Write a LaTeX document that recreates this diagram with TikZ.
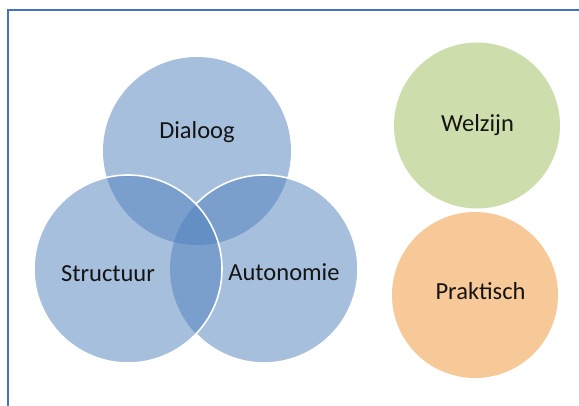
\documentclass[tikz,border=0pt]{standalone}
\usepackage{fontspec}
\setmainfont{Carlito}
\definecolor{vennblue}{HTML}{4F81BD}
\definecolor{framblue}{HTML}{4472C4}
\definecolor{welgreen}{HTML}{CEDDAC}
\definecolor{praorange}{HTML}{F8C998}
\definecolor{txt}{HTML}{141414}
\tikzset{
  venn/.style={circle, minimum size=188pt, inner sep=0pt, fill=vennblue, fill opacity=0.5, draw=none},
  rim/.style={draw=white, line width=1.6pt},
  solo/.style={circle, minimum size=166pt, inner sep=0pt, draw=none},
  lbl/.style={anchor=base, font=\fontsize{24.5}{28}\selectfont, text=txt, inner sep=0pt},
}
\begin{document}
\begin{tikzpicture}[x=1pt,y=-1pt]
\useasboundingbox (0,0) rectangle (579,406);
\clip (0,0) rectangle (579,406);
\fill[white] (0,0) rectangle (579,406);
\draw[framblue, line width=2pt] (8,10) rectangle (600,430);
\node[venn] (dia) at (197,151) {};
\node[venn] (aut) at (264,269) {};
\node[venn] (str) at (128,269) {};
\begin{scope}[even odd rule]
  \clip (0,0) rectangle (579,406) (str.center) circle[radius=94pt];
  \draw[rim] (aut.center) circle[radius=94pt];
\end{scope}
\draw[rim] (str.center) circle[radius=94pt];
\node[solo, fill=welgreen] (wel) at (477,125.5) {};
\node[solo, fill=praorange] (pra) at (475,295) {};
\node[lbl] (tdia) at (197,139) {Dialoog};
\node[lbl] (taut) at (284,281) {Autonomie};
\node[lbl] (tstr) at (108,282) {Structuur};
\node[lbl] (twel) at (477.5,132) {Welzijn};
\node[lbl] (tpra) at (480.5,300) {Praktisch};
\end{tikzpicture}
\end{document}
